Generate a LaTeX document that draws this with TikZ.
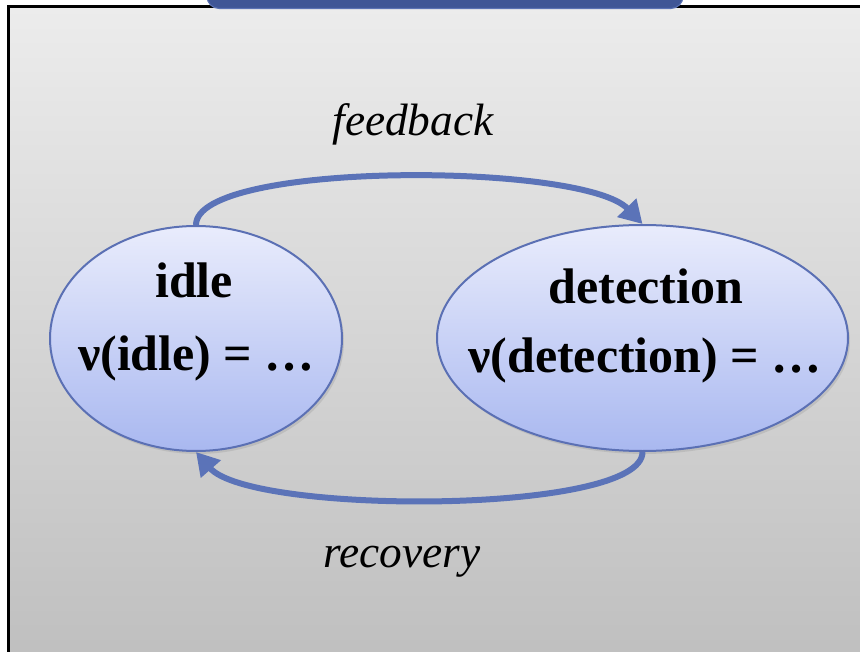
\documentclass[tikz,border=0pt]{standalone}
\usepackage{fontspec}
\setmainfont{Liberation Serif}
\usetikzlibrary{shapes.geometric,arrows.meta,shadows}

\definecolor{panelTop}{HTML}{ECECEC}
\definecolor{panelBot}{HTML}{BDBDBD}
\definecolor{tabBlue}{HTML}{3F5696}
\definecolor{tabEdge}{HTML}{5A72B4}
\definecolor{stateTop}{HTML}{E9ECFC}
\definecolor{stateBot}{HTML}{A9B8F0}
\definecolor{stateEdge}{HTML}{5B70B4}
\definecolor{flow}{HTML}{5B73B8}

\begin{document}
\begin{tikzpicture}[x=0.75pt,y=-0.75pt,
  state/.style={ellipse, draw=stateEdge, line width=1.5pt,
    top color=stateTop, bottom color=stateBot, inner sep=0pt,
    drop shadow={opacity=0.22, shadow xshift=1.5pt, shadow yshift=-2.2pt}},
  statetext/.style={inner sep=0pt, anchor=base,
    font=\fontsize{37.5}{45}\selectfont\bfseries},
  flowtext/.style={inner sep=0pt, anchor=base,
    font=\fontsize{34}{40}\selectfont\itshape},
  flowline/.style={draw=flow, line width=4.5pt,
    -{Triangle[length=17pt,width=19pt]}}]

\useasboundingbox (0,0) rectangle (860,652);
\begin{scope}
  \clip (0,0) rectangle (860,652);
  % page background and grey panel
  \fill[white] (0,0) rectangle (860,652);
  \path[top color=panelTop, bottom color=panelBot, draw=black, line width=1.6pt]
    (8.5,6.5) rectangle (890,690);
  % title tab running off the top edge
  \draw[fill=tabBlue, draw=tabEdge, line width=0.8pt, rounded corners=9pt]
    (207,-20) rectangle (683,8.5);
\end{scope}

% the two states
\node[state, minimum width=219pt, minimum height=168.75pt] (idle) at (196,338.5) {};
\node[state, minimum width=308.25pt, minimum height=169.5pt] (detect) at (642.5,338) {};

\node[statetext] (idleName) at (194,297) {idle};
\node[statetext] (idleVal) at (196.5,370) {ν(idle) = …};
\node[statetext] (detectName) at (646,303) {detection};
\node[statetext] (detectVal) at (645,372) {ν(detection) = …};

% transitions
\draw[flowline] (idle.north) .. controls +(0,-64) and +(-60,-62) .. (detect.north);
\draw[flowline] (detect.south) .. controls +(0,63) and +(55,63) .. (idle.south);

\node[flowtext] (fb) at (413,136) {feedback};
\node[flowtext] (rec) at (402,567) {recovery};
\end{tikzpicture}
\end{document}
